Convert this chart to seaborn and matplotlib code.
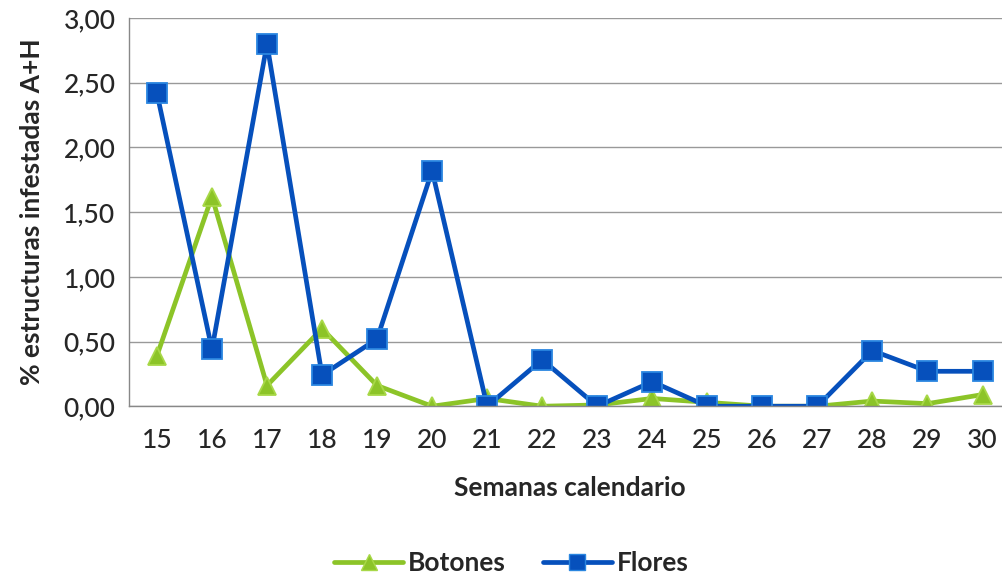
import numpy as np
import pandas as pd
import matplotlib.pyplot as plt
import seaborn as sns
from matplotlib.ticker import FixedLocator, FuncFormatter
from matplotlib.lines import Line2D

# Data
semanas = list(range(15, 31))
botones = [0.39, 1.62, 0.16, 0.60, 0.16, 0.00, 0.06, 0.00, 0.01, 0.06, 0.03, 0.00, 0.00, 0.04, 0.02, 0.09]
flores = [2.42, 0.44, 2.80, 0.24, 0.52, 1.82, 0.00, 0.36, 0.00, 0.19, 0.00, 0.00, 0.00, 0.43, 0.27, 0.27]

df = pd.DataFrame({
    'Semana': semanas * 2,
    'Valor': botones + flores,
    'Serie': ['Botones'] * len(semanas) + ['Flores'] * len(semanas),
})

sns.set_style('white')
plt.rcParams['font.family'] = ['Lato', 'DejaVu Sans']

fig = plt.figure(figsize=(10.03, 5.82), dpi=100)
ax = fig.add_axes([0.129, 0.302, 0.878, 0.667])

green = '#8CC428'
blue = '#0650BC'

sns.lineplot(data=df, x='Semana', y='Valor', hue='Serie', style='Serie',
             palette={'Botones': green, 'Flores': blue},
             markers={'Botones': '^', 'Flores': 's'}, dashes=False,
             markersize=13, linewidth=3.4, ax=ax, legend=False)
for line, ec in zip(ax.lines, ['#A8D848', '#2A86E0']):
    line.set_markeredgecolor(ec)
    line.set_markeredgewidth(1.3)
ax.lines[1].set_markersize(14)

ax.set_xlim(14.5, 30.5)
ax.set_ylim(0, 3)
ax.set_yticks(np.arange(0, 3.01, 0.5))
ax.yaxis.set_major_formatter(FuncFormatter(lambda v, p: f'{v:.2f}'.replace('.', ',')))
ax.set_xticks(semanas)
ax.xaxis.set_minor_locator(FixedLocator(np.arange(15.5, 30.5, 1)))
ax.tick_params(axis='x', which='major', length=0, labelsize=19, pad=16)
ax.tick_params(axis='x', which='minor', length=7, color='#888888', width=1, direction='out')
ax.tick_params(axis='y', which='major', length=6, color='#888888', width=1, direction='out', labelsize=19, pad=4)
for lab in ax.get_xticklabels() + ax.get_yticklabels():
    lab.set_fontweight('medium')
ax.grid(axis='y', color='#999999', linewidth=1)
ax.set_axisbelow(True)

for s in ['top', 'right']:
    ax.spines[s].set_visible(False)
for s in ['left', 'bottom']:
    ax.spines[s].set_color('#888888')
    ax.spines[s].set_linewidth(1)

ax.set_xlabel('Semanas calendario', fontsize=19, fontweight='bold', labelpad=16)
ax.set_ylabel('% estructuras infestadas A+H', fontsize=19, fontweight='bold', labelpad=14)

handles = [
    Line2D([], [], color=green, marker='^', markersize=12, linewidth=3.4, markeredgecolor='#A8D848'),
    Line2D([], [], color=blue, marker='s', markersize=12, linewidth=3.4, markeredgecolor='#2A86E0'),
]
fig.legend(handles, ['Botones', 'Flores'], loc='center', bbox_to_anchor=(0.51, 0.033),
           ncol=2, frameon=False, handlelength=2.6, columnspacing=1.4,
           handletextpad=0.2, prop={'weight': 'bold', 'size': 19})

fig.savefig('out.png', dpi=100)
